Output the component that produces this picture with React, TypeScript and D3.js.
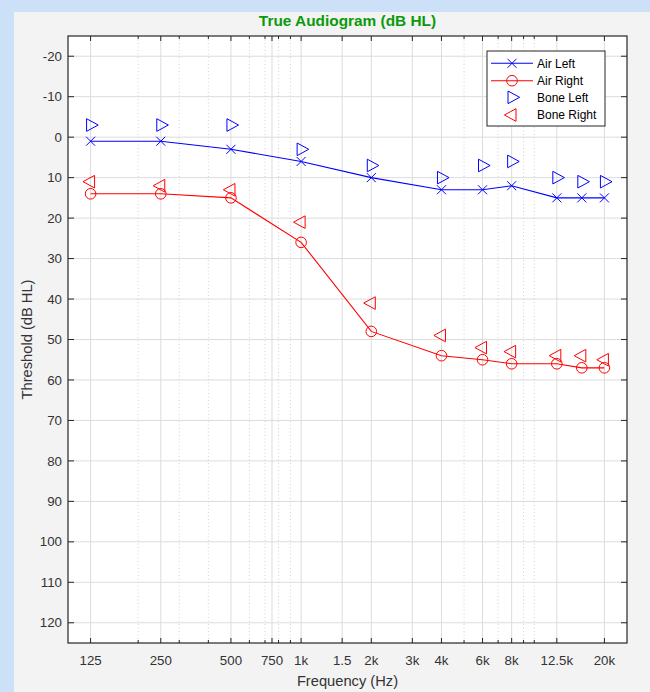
import React from "react";
import * as d3 from "d3";

const freqs = [125, 250, 500, 1000, 2000, 4000, 6000, 8000, 12500, 16000, 20000];
const airLeft = [1, 1, 3, 6, 10, 13, 13, 12, 15, 15, 15];
const airRight = [14, 14, 15, 26, 48, 54, 55, 56, 56, 57, 57];
const boneLeft = [-3, -3, -3, 3, 7, 10, 7, 6, 10, 11, 11];
const boneRight = [11, 12, 13, 21, 41, 49, 52, 53, 54, 54, 55];

const xTickValues = [125, 250, 500, 750, 1000, 1500, 2000, 3000, 4000, 6000, 8000, 12500, 20000];
const xTickLabels = ["125", "250", "500", "750", "1k", "1.5", "2k", "3k", "4k", "6k", "8k", "12.5k", "20k"];
const yTickValues = [-20, -10, 0, 10, 20, 30, 40, 50, 60, 70, 80, 90, 100, 110, 120];
const legendLabels = ["Air Left", "Air Right", "Bone Left", "Bone Right"];

const W = 650;
const H = 692;
const L = 68, R = 627, T = 36, B = 643;
const FONT = "'Liberation Sans', Arial, Helvetica, sans-serif";
const BLUE = "#0000ff";
const RED = "#ff0000";
const AX = "#262626";

const x = d3.scaleLog().domain([100, 25000]).range([L, R]);
const y = d3.scaleLinear().domain([-25, 125]).range([T, B]);

const minorTicks = x.ticks().filter((t) => t > 100 && !xTickValues.includes(t));

const triRight = (cx: number, cy: number) =>
  `M${cx - 4},${cy - 6.3}L${cx + 7.6},${cy}L${cx - 4},${cy + 6.3}Z`;
const triLeft = (cx: number, cy: number) =>
  `M${cx + 4},${cy - 6.3}L${cx - 7.6},${cy}L${cx + 4},${cy + 6.3}Z`;
const xMark = (cx: number, cy: number, r = 4.5) =>
  `M${cx - r},${cy - r}L${cx + r},${cy + r}M${cx - r},${cy + r}L${cx + r},${cy - r}`;

export default function App() {
  const line = d3
    .line<number>()
    .x((_, i) => x(freqs[i]))
    .y((d) => y(d));

  const legY = [63.3, 80.7, 97.3, 115];
  const legMX = 512;

  return (
    <svg
      width={W}
      height={H}
      style={{ position: "fixed", left: 0, top: 0 }}
      fontFamily={FONT}
    >
      <rect x={0} y={0} width={W} height={H} fill="#cce0f8" />
      <rect x={14} y={12} width={W - 14} height={H - 12} fill="#f3f3f3" />
      <rect x={L} y={T} width={R - L} height={B - T} fill="#ffffff" />

      {/* grid */}
      {yTickValues.map((v) => (
        <line key={"gy" + v} x1={L} x2={R} y1={y(v)} y2={y(v)} stroke="#dcdcdc" strokeWidth={1} />
      ))}
      {minorTicks.map((v) => (
        <line
          key={"gm" + v}
          x1={x(v)}
          x2={x(v)}
          y1={T}
          y2={B}
          stroke="#c8c8c8"
          strokeWidth={0.8}
          strokeDasharray="1,2.5"
        />
      ))}
      {xTickValues.map((v) => (
        <line key={"gx" + v} x1={x(v)} x2={x(v)} y1={T} y2={B} stroke="#dcdcdc" strokeWidth={1} />
      ))}

      {/* ticks */}
      {xTickValues.map((v) => (
        <g key={"tx" + v}>
          <line x1={x(v)} x2={x(v)} y1={B} y2={B - 5} stroke={AX} />
          <line x1={x(v)} x2={x(v)} y1={T} y2={T + 5} stroke={AX} />
        </g>
      ))}
      {minorTicks.map((v) => (
        <g key={"tm" + v}>
          <line x1={x(v)} x2={x(v)} y1={B} y2={B - 3} stroke={AX} />
          <line x1={x(v)} x2={x(v)} y1={T} y2={T + 3} stroke={AX} />
        </g>
      ))}
      {yTickValues.map((v) => (
        <g key={"ty" + v}>
          <line x1={L} x2={L + 6} y1={y(v)} y2={y(v)} stroke={AX} />
          <line x1={R} x2={R - 6} y1={y(v)} y2={y(v)} stroke={AX} />
        </g>
      ))}

      {/* data */}
      <path d={line(airLeft) || ""} fill="none" stroke={BLUE} strokeWidth={1.1} />
      <path d={line(airRight) || ""} fill="none" stroke={RED} strokeWidth={1.1} />
      {airLeft.map((v, i) => (
        <path key={"al" + i} d={xMark(x(freqs[i]), y(v))} stroke={BLUE} strokeWidth={1} fill="none" />
      ))}
      {airRight.map((v, i) => (
        <circle key={"ar" + i} cx={x(freqs[i])} cy={y(v)} r={5.3} stroke={RED} strokeWidth={1} fill="none" />
      ))}
      {boneLeft.map((v, i) => (
        <path key={"bl" + i} d={triRight(x(freqs[i]), y(v))} stroke={BLUE} strokeWidth={1} fill="none" />
      ))}
      {boneRight.map((v, i) => (
        <path key={"br" + i} d={triLeft(x(freqs[i]), y(v))} stroke={RED} strokeWidth={1} fill="none" />
      ))}

      {/* axes box */}
      <rect x={L} y={T} width={R - L} height={B - T} fill="none" stroke={AX} strokeWidth={1.2} />

      {/* tick labels */}
      {xTickValues.map((v, i) => (
        <text key={"lx" + v} x={x(v)} y={665} textAnchor="middle" fontSize={13.3} fill="#333">
          {xTickLabels[i]}
        </text>
      ))}
      {yTickValues.map((v) => (
        <text key={"ly" + v} x={62} y={y(v)} dy="0.35em" textAnchor="end" fontSize={13.3} fill="#333">
          {v}
        </text>
      ))}

      {/* labels */}
      <text x={(L + R) / 2} y={686} textAnchor="middle" fontSize={14.7} fill="#333">
        Frequency (Hz)
      </text>
      <text
        transform={`translate(32,${(T + B) / 2}) rotate(-90)`}
        textAnchor="middle"
        fontSize={14.7}
        fill="#333"
      >
        Threshold (dB HL)
      </text>
      <text x={(L + R) / 2} y={26} textAnchor="middle" fontSize={15.4} fontWeight="bold" fill="#0a9a0a">
        True Audiogram (dB HL)
      </text>

      {/* legend */}
      <rect x={487} y={51} width={118} height={75} fill="#ffffff" stroke={AX} strokeWidth={1} />
      <line x1={491} x2={533} y1={legY[0]} y2={legY[0]} stroke={BLUE} strokeWidth={1.1} />
      <path d={xMark(legMX, legY[0])} stroke={BLUE} fill="none" />
      <line x1={491} x2={533} y1={legY[1]} y2={legY[1]} stroke={RED} strokeWidth={1.1} />
      <circle cx={legMX} cy={legY[1]} r={5.3} stroke={RED} fill="none" />
      <path d={triRight(legMX, legY[2])} stroke={BLUE} fill="none" />
      <path d={triLeft(legMX, legY[3])} stroke={RED} fill="none" />
      {legendLabels.map((t, i) => (
        <text key={t} x={537} y={legY[i]} dy="0.35em" fontSize={12} fill="#000">
          {t}
        </text>
      ))}
    </svg>
  );
}
